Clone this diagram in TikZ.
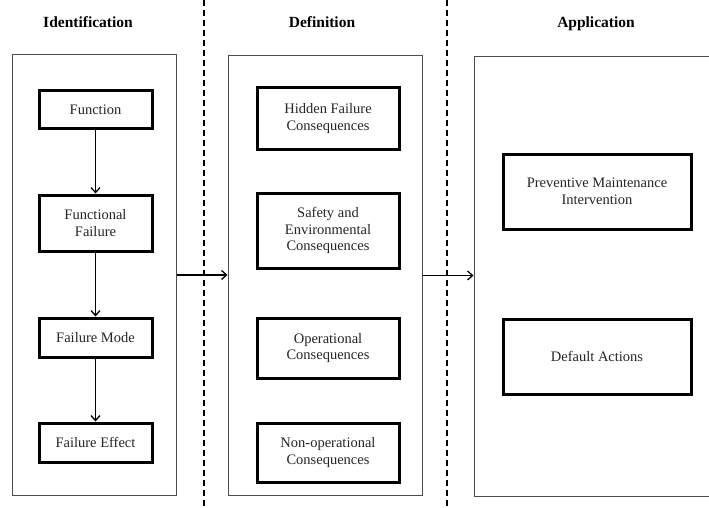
\documentclass[tikz,border=0pt]{standalone}
\usepackage{fontspec}
\setmainfont{Liberation Serif}
\usetikzlibrary{arrows.meta}
\tikzset{
  panel/.style={draw=black!70, line width=1pt, fill=white, inner sep=0pt},
  stepbox/.style={draw=black, line width=3pt, fill=white, align=center, inner sep=0pt,
    font=\fontsize{14.5}{16.5}\selectfont, text=black!85},
  title/.style={font=\fontsize{15.5}{18}\selectfont\bfseries, anchor=base},
  flow/.style={line width=1.5pt, -{Straight Barb[length=5pt,width=9pt,line width=1.3pt]}},
  divider/.style={line width=2pt, dash pattern=on 6pt off 4pt}
}
\begin{document}
\begin{tikzpicture}[x=1pt,y=-1pt]
\useasboundingbox (0,0) rectangle (709,508);
\clip (0,0) rectangle (709,508);
\fill[white] (0,0) rectangle (709,508);
% dividers
\coordinate (d1t) at (204,0); \coordinate (d1b) at (204,508);
\coordinate (d2t) at (447,0); \coordinate (d2b) at (447,508);
\draw[divider] (d1t) -- (d1b);
\draw[divider] (d2t) -- (d2b);
% titles
\node[title] (t1) at (88,28) {Identification};
\node[title] (t2) at (322,28) {Definition};
\node[title] (t3) at (596,28) {Application};
% panels
\node[panel, minimum width=164pt, minimum height=440pt] (lp) at (94,275) {};
\node[panel, minimum width=194pt, minimum height=439pt] (mp) at (325,275.5) {};
\node[panel, minimum width=246pt, minimum height=439pt] (rp) at (597,276.5) {};
% left boxes
\node[stepbox, minimum width=113pt, minimum height=38pt] (f1) at (95.5,110) {Function};
\node[stepbox, minimum width=113pt, minimum height=56pt] (f2) at (95.5,223) {Functional\\Failure};
\node[stepbox, minimum width=113pt, minimum height=39pt] (f3) at (95.5,337.5) {Failure Mode};
\node[stepbox, minimum width=113pt, minimum height=39pt] (f4) at (95.5,442.5) {Failure Effect};
% middle boxes
\node[stepbox, minimum width=142pt, minimum height=61pt] (m1) at (328,118.5) {Hidden Failure\\Consequences};
\node[stepbox, minimum width=142pt, minimum height=75pt] (m2) at (328,230.5) {Safety and\\Environmental\\Consequences};
\node[stepbox, minimum width=142pt, minimum height=60pt] (m3) at (328,348) {Operational\\Consequences};
\node[stepbox, minimum width=142pt, minimum height=59pt] (m4) at (328,452.5) {Non-operational\\Consequences};
% right boxes
\node[stepbox, minimum width=188pt, minimum height=75pt] (r1) at (597,191.5) {Preventive Maintenance\\Intervention};
\node[stepbox, minimum width=188pt, minimum height=75pt] (r2) at (597,356.5) {Default Actions};
% arrows
\draw[flow] (f1) -- (f2);
\draw[flow] (f2) -- (f3);
\draw[flow] (f3) -- (f4);
\draw[flow] (lp.east) -- (lp.east -| mp.west);
\draw[flow] (mp.east) -- (mp.east -| rp.west);
\end{tikzpicture}
\end{document}
